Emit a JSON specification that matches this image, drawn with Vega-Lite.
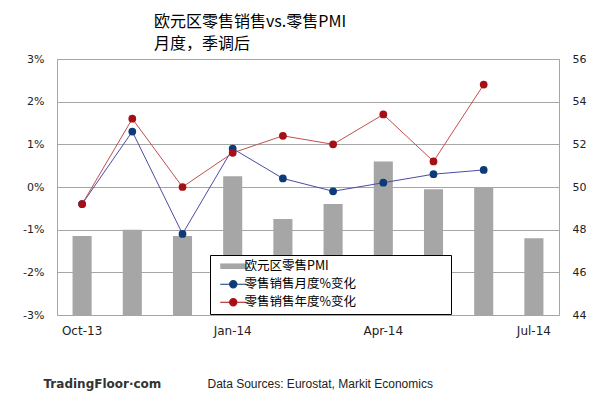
{
  "$schema": "https://vega.github.io/schema/vega-lite/v6.json",
  "autosize": {"type": "none"},
  "padding": {"left": 57, "top": 59, "right": 49, "bottom": 89},
  "width": 502,
  "height": 256,
  "background": "white",
  "title": {
    "text": ["欧元区零售销售vs.零售PMI", "月度，季调后"],
    "anchor": "start",
    "frame": "group",
    "dx": 97,
    "offset": 1,
    "fontSize": 16,
    "font": "Noto Sans CJK SC",
    "fontWeight": "normal",
    "lineHeight": 22,
    "color": "#000000"
  },
  "config": {
    "view": {"stroke": "#A6A6A6", "strokeWidth": 1},
    "axis": {"labelFont": "DejaVu Sans", "labelColor": "#222222", "ticks": false, "domain": false},
    "legend": {
      "orient": "none",
      "legendX": 153,
      "legendY": 196,
      "strokeColor": "#000000",
      "fillColor": "#ffffff",
      "padding": 5,
      "rowPadding": 5,
      "labelFont": "Noto Sans CJK SC",
      "labelFontSize": 12.5,
      "labelColor": "#000000",
      "labelOffset": 17,
      "labelLimit": 400,
      "symbolSize": 64,
      "titleOrient": "right",
      "titleFont": "DejaVu Sans Mono",
      "titleFontSize": 10,
      "titleFontWeight": "normal",
      "titleOpacity": 0,
      "titlePadding": 5,
      "titleLimit": 400
    }
  },
  "data": {
    "values": [
      {"month": "Oct-13", "series": "欧元区零售PMI", "value": 47.7},
      {"month": "Nov-13", "series": "欧元区零售PMI", "value": 48.0},
      {"month": "Dec-13", "series": "欧元区零售PMI", "value": 47.7},
      {"month": "Jan-14", "series": "欧元区零售PMI", "value": 50.5},
      {"month": "Feb-14", "series": "欧元区零售PMI", "value": 48.5},
      {"month": "Mar-14", "series": "欧元区零售PMI", "value": 49.2},
      {"month": "Apr-14", "series": "欧元区零售PMI", "value": 51.2},
      {"month": "May-14", "series": "欧元区零售PMI", "value": 49.9},
      {"month": "Jun-14", "series": "欧元区零售PMI", "value": 50.0},
      {"month": "Jul-14", "series": "欧元区零售PMI", "value": 47.6},
      {"month": "Oct-13", "series": "零售销售月度%变化", "value": -0.4},
      {"month": "Nov-13", "series": "零售销售月度%变化", "value": 1.3},
      {"month": "Dec-13", "series": "零售销售月度%变化", "value": -1.1},
      {"month": "Jan-14", "series": "零售销售月度%变化", "value": 0.9},
      {"month": "Feb-14", "series": "零售销售月度%变化", "value": 0.2},
      {"month": "Mar-14", "series": "零售销售月度%变化", "value": -0.1},
      {"month": "Apr-14", "series": "零售销售月度%变化", "value": 0.1},
      {"month": "May-14", "series": "零售销售月度%变化", "value": 0.3},
      {"month": "Jun-14", "series": "零售销售月度%变化", "value": 0.4},
      {"month": "Oct-13", "series": "零售销售年度%变化", "value": -0.4},
      {"month": "Nov-13", "series": "零售销售年度%变化", "value": 1.6},
      {"month": "Dec-13", "series": "零售销售年度%变化", "value": 0.0},
      {"month": "Jan-14", "series": "零售销售年度%变化", "value": 0.8},
      {"month": "Feb-14", "series": "零售销售年度%变化", "value": 1.2},
      {"month": "Mar-14", "series": "零售销售年度%变化", "value": 1.0},
      {"month": "Apr-14", "series": "零售销售年度%变化", "value": 1.7},
      {"month": "May-14", "series": "零售销售年度%变化", "value": 0.6},
      {"month": "Jun-14", "series": "零售销售年度%变化", "value": 2.4}
    ]
  },
  "encoding": {
    "x": {
      "field": "month",
      "type": "nominal",
      "scale": {
        "domain": ["Oct-13", "Nov-13", "Dec-13", "Jan-14", "Feb-14", "Mar-14", "Apr-14", "May-14", "Jun-14", "Jul-14"],
        "paddingInner": 0.62,
        "paddingOuter": 0.31
      },
      "axis": {
        "labelAngle": 0,
        "labelFontSize": 12,
        "labelPadding": 10,
        "labelExpr": "indexof(['Oct-13','Jan-14','Apr-14','Jul-14'], datum.value) >= 0 ? datum.value : ''",
        "title": "Data Sources: Eurostat, Markit Economics",
        "titleFont": "Liberation Sans",
        "titleFontSize": 12,
        "titleFontWeight": "normal",
        "titleColor": "#222222",
        "titleAnchor": "start",
        "titleAlign": "left",
        "titleBaseline": "middle",
        "titleX": 150,
        "titleY": 68
      }
    }
  },
  "layer": [
    {
      "transform": [{"filter": "datum.series === '欧元区零售PMI'"}],
      "mark": {"type": "bar"},
      "encoding": {
        "y": {
          "field": "value",
          "type": "quantitative",
          "scale": {"domain": [44, 56], "zero": false, "nice": false},
          "axis": {
            "orient": "right",
            "values": [44, 46, 48, 50, 52, 54, 56],
            "grid": false,
            "labelFontSize": 11,
            "labelPadding": 13,
            "title": null
          }
        },
        "y2": {"datum": 44},
        "color": {
          "field": "series",
          "type": "nominal",
          "scale": {
            "domain": ["欧元区零售PMI", "零售销售月度%变化", "零售销售年度%变化"],
            "range": ["#A6A6A6", "#0D3B7A", "#A50F15"]
          },
          "legend": {
            "title": "MMMMMMMMMMMMMM",
            "encode": {
              "symbols": {
                "update": {
                  "shape": {"signal": "datum.value === '欧元区零售PMI' ? 'M-0.25,-0.7H6.25V0.7H-0.25Z' : 'M-0.25,0H6.25M2.1,0A0.9,0.9,0,1,1,3.9,0A0.9,0.9,0,1,1,2.1,0Z'"},
                  "fill": {"signal": "datum.value === '欧元区零售PMI' ? '#A6A6A6' : (datum.value === '零售销售月度%变化' ? '#0D3B7A' : '#A50F15')"},
                  "stroke": {"signal": "datum.value === '欧元区零售PMI' ? 'transparent' : (datum.value === '零售销售月度%变化' ? '#0D3B7A' : '#A50F15')"},
                  "strokeWidth": {"value": 1.2},
                  "opacity": {"value": 1},
                  "fillOpacity": {"value": 1}
                }
              }
            }
          }
        }
      }
    },
    {
      "transform": [{"filter": "datum.series !== '欧元区零售PMI'"}],
      "encoding": {
        "y": {
          "field": "value",
          "type": "quantitative",
          "scale": {"domain": [-3, 3], "nice": false},
          "axis": {
            "orient": "left",
            "values": [-3, -2, -1, 0, 1, 2, 3],
            "labelExpr": "datum.value + '%'",
            "grid": true,
            "gridColor": "#A6A6A6",
            "labelFontSize": 11,
            "labelPadding": 13,
            "title": "TradingFloor·com",
            "titleAngle": 0,
            "titleFont": "DejaVu Sans",
            "titleFontSize": 12,
            "titleFontWeight": "bold",
            "titleColor": "#333333",
            "titleAlign": "left",
            "titleBaseline": "middle",
            "titleX": -14,
            "titleY": 324
          }
        }
      },
      "layer": [
        {
          "mark": {"type": "line", "strokeWidth": 1},
          "encoding": {
            "stroke": {
              "field": "series",
              "type": "nominal",
              "scale": {"domain": ["零售销售月度%变化", "零售销售年度%变化"], "range": ["#4B4BA6", "#C0504D"]},
              "legend": null
            }
          }
        },
        {
          "mark": {"type": "point", "filled": true, "size": 60, "opacity": 1},
          "encoding": {
            "color": {"field": "series", "type": "nominal"}
          }
        }
      ]
    }
  ],
  "resolve": {"scale": {"y": "independent"}}
}
